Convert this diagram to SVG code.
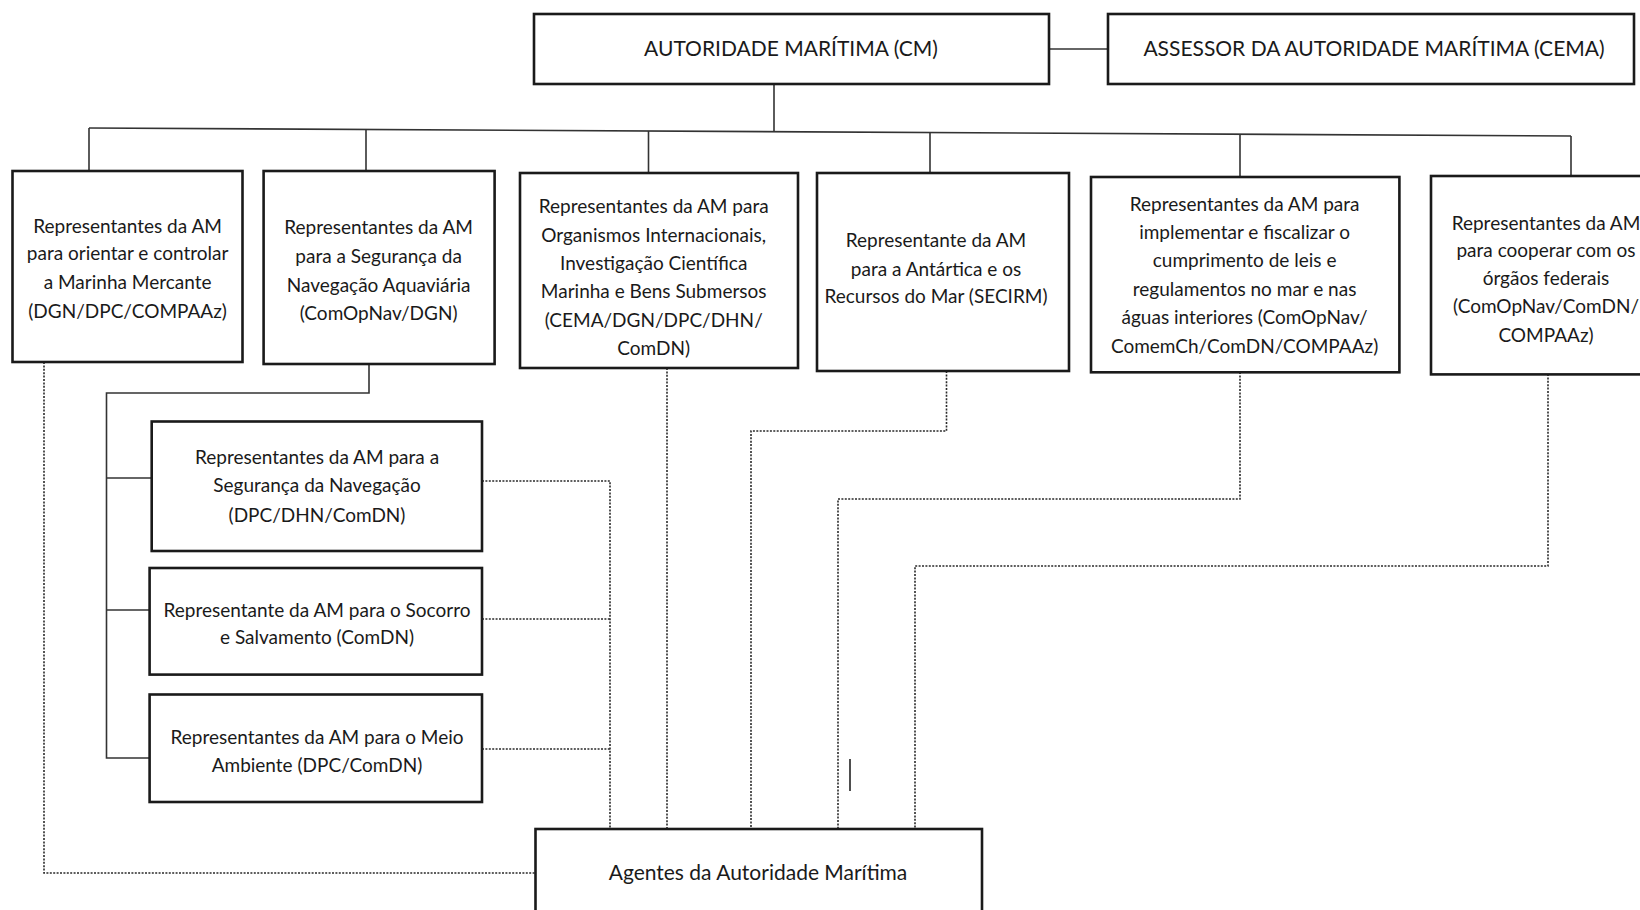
<svg xmlns="http://www.w3.org/2000/svg" width="1640" height="910" viewBox="0 0 1640 910">
<style>
.box{fill:#fff;stroke:#1a1a1a;stroke-width:2.6}
.t{font-family:Lato,"Open Sans","Liberation Sans",sans-serif;font-size:19px;fill:#1a1a1a;text-anchor:middle}
.tb{font-size:21px}
.solid{fill:none;stroke:#333;stroke-width:1.6}
.dot{fill:none;stroke:#2a2a2a;stroke-width:1.6;stroke-dasharray:2 1.4}
</style>
<rect width="1640" height="910" fill="#fff"/>
<g id="connectors">
<line class="solid" x1="1049" y1="49" x2="1108" y2="49"/>
<line class="solid" x1="774" y1="84" x2="774" y2="132"/>
<line class="solid" x1="89" y1="128" x2="1571" y2="136"/>
<line class="solid" x1="89" y1="128" x2="89" y2="171"/>
<line class="solid" x1="366" y1="129.5" x2="366" y2="171"/>
<line class="solid" x1="648.5" y1="131" x2="648.5" y2="173"/>
<line class="solid" x1="930" y1="132.5" x2="930" y2="173"/>
<line class="solid" x1="1240" y1="134.5" x2="1240" y2="177"/>
<line class="solid" x1="1571" y1="136" x2="1571" y2="176"/>
<polyline class="solid" points="369,364 369,393 106.5,393 106.5,758 150,758"/>
<line class="solid" x1="106.5" y1="478" x2="152" y2="478"/>
<line class="solid" x1="106.5" y1="610" x2="150" y2="610"/>
<polyline class="dot" points="482,481 610,481 610,829"/>
<line class="dot" x1="482" y1="619" x2="610" y2="619"/>
<line class="dot" x1="482" y1="749" x2="610" y2="749"/>
<polyline class="dot" points="44,362 44,873 535,873"/>
<line class="dot" x1="667" y1="368" x2="667" y2="829"/>
<polyline class="dot" points="946.5,371 946.5,431 751,431 751,829"/>
<polyline class="dot" points="1240,372 1240,499 838,499 838,829"/>
<polyline class="dot" points="1548,374 1548,566 915,566 915,829"/>
<line x1="850" y1="759" x2="850" y2="791" stroke="#222" stroke-width="1.6"/>
</g>
<g id="n-am">
<rect class="box" x="534" y="14" width="515" height="70"/>
<text class="t tb" x="791" y="56">AUTORIDADE MARÍTIMA (CM)</text>
</g>
<g id="n-assessor">
<rect class="box" x="1108" y="14" width="526" height="70"/>
<text class="t tb" x="1374" y="56">ASSESSOR DA AUTORIDADE MARÍTIMA (CEMA)</text>
</g>
<g id="n-mercante">
<rect class="box" x="12.5" y="171" width="230" height="191"/>
<text class="t" x="127.6" y="233">Representantes da AM</text>
<text class="t" x="127.6" y="260">para orientar e controlar</text>
<text class="t" x="127.6" y="288.5">a Marinha Mercante</text>
<text class="t" x="127.6" y="317.5">(DGN/DPC/COMPAAz)</text>
</g>
<g id="n-aquaviaria">
<rect class="box" x="263.6" y="171" width="231" height="193"/>
<text class="t" x="378.6" y="234">Representantes da AM</text>
<text class="t" x="378.6" y="263">para a Segurança da</text>
<text class="t" x="378.6" y="291.5">Navegação Aquaviária</text>
<text class="t" x="378.6" y="319.7">(ComOpNav/DGN)</text>
</g>
<g id="n-organismos">
<rect class="box" x="520" y="173" width="278" height="195"/>
<text class="t" x="653.7" y="213">Representantes da AM para</text>
<text class="t" x="653.7" y="242">Organismos Internacionais,</text>
<text class="t" x="653.7" y="269.5">Investigação Científica</text>
<text class="t" x="653.7" y="298">Marinha e Bens Submersos</text>
<text class="t" x="653.7" y="327">(CEMA/DGN/DPC/DHN/</text>
<text class="t" x="653.7" y="355">ComDN)</text>
</g>
<g id="n-antartica">
<rect class="box" x="817" y="173" width="252" height="198"/>
<text class="t" x="936" y="246.5">Representante da AM</text>
<text class="t" x="936" y="276">para a Antártica e os</text>
<text class="t" x="936" y="303">Recursos do Mar (SECIRM)</text>
</g>
<g id="n-fiscalizar">
<rect class="box" x="1091" y="177" width="308.4" height="195.3"/>
<text class="t" x="1244.6" y="211">Representantes da AM para</text>
<text class="t" x="1244.6" y="239">implementar e fiscalizar o</text>
<text class="t" x="1244.6" y="267">cumprimento de leis e</text>
<text class="t" x="1244.6" y="295.7">regulamentos no mar e nas</text>
<text class="t" x="1244.6" y="324">águas interiores (ComOpNav/</text>
<text class="t" x="1244.6" y="353">ComemCh/ComDN/COMPAAz)</text>
</g>
<g id="n-federais">
<rect class="box" x="1431" y="176" width="240" height="198.4"/>
<text class="t" x="1546" y="229.8">Representantes da AM</text>
<text class="t" x="1546" y="257">para cooperar com os</text>
<text class="t" x="1546" y="285">órgãos federais</text>
<text class="t" x="1546" y="313.4">(ComOpNav/ComDN/</text>
<text class="t" x="1546" y="341.7">COMPAAz)</text>
</g>
<g id="n-seguranca">
<rect class="box" x="151.7" y="421.5" width="330.3" height="129.5"/>
<text class="t" x="317" y="464">Representantes da AM para a</text>
<text class="t" x="317" y="492">Segurança da Navegação</text>
<text class="t" x="317" y="521.6">(DPC/DHN/ComDN)</text>
</g>
<g id="n-socorro">
<rect class="box" x="149.6" y="568" width="332.4" height="106.6"/>
<text class="t" x="317" y="617">Representante da AM para o Socorro</text>
<text class="t" x="317" y="644">e Salvamento (ComDN)</text>
</g>
<g id="n-ambiente">
<rect class="box" x="149.6" y="694.5" width="332.4" height="107.5"/>
<text class="t" x="317" y="744">Representantes da AM para o Meio</text>
<text class="t" x="317" y="771.5">Ambiente (DPC/ComDN)</text>
</g>
<g id="n-agentes">
<rect class="box" x="535.5" y="829" width="446.5" height="100"/>
<text class="t tb" x="758" y="880">Agentes da Autoridade Marítima</text>
</g>
</svg>
